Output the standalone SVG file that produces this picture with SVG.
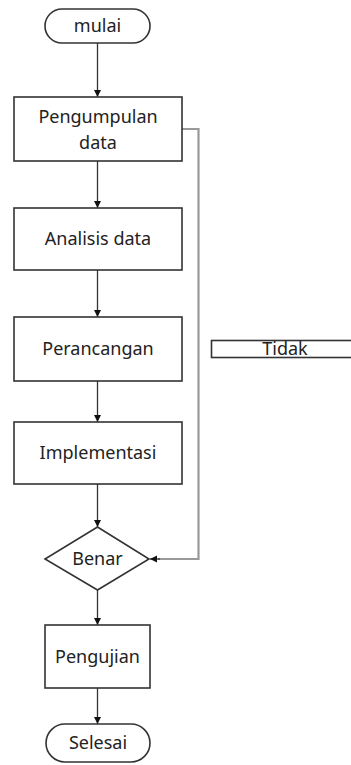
<svg xmlns="http://www.w3.org/2000/svg" width="351" height="765" viewBox="0 0 351 765">
<defs>
<marker id="arr" markerWidth="8" markerHeight="8" refX="7" refY="4" orient="auto" markerUnits="userSpaceOnUse">
<path d="M0,0.5 L7,4 L0,7.5 Z" fill="#111"/>
</marker>
<style>
.box{fill:#fff;stroke:#333;stroke-width:1.6}
.t{font-family:"Noto Sans","Open Sans",sans-serif;font-size:18px;fill:#222;text-anchor:middle}
.c{fill:none;stroke:#333;stroke-width:1.3}
.loop{fill:none;stroke:#999;stroke-width:2.2}
</style>
</defs>
<rect width="351" height="765" fill="#fff"/>
<g id="connectors">
<line class="c" x1="97.5" y1="43" x2="97.5" y2="97" marker-end="url(#arr)"/>
<line class="c" x1="97.5" y1="161" x2="97.5" y2="208" marker-end="url(#arr)"/>
<line class="c" x1="97.5" y1="270" x2="97.5" y2="317" marker-end="url(#arr)"/>
<line class="c" x1="97.5" y1="381" x2="97.5" y2="422" marker-end="url(#arr)"/>
<line class="c" x1="97.5" y1="484" x2="97.5" y2="527" marker-end="url(#arr)"/>
<line class="c" x1="97.5" y1="590" x2="97.5" y2="625" marker-end="url(#arr)"/>
<line class="c" x1="97.5" y1="688" x2="97.5" y2="724" marker-end="url(#arr)"/>
<polyline class="loop" points="182,129 198.5,129 198.5,559 158,559"/>
<line class="c" x1="160" y1="559" x2="150" y2="559" marker-end="url(#arr)"/>
</g>
<g id="mulai">
<rect class="box" x="45" y="9" width="105" height="34" rx="17" ry="17"/>
<text class="t" x="97.5" y="32">mulai</text>
</g>
<g id="pengumpulan">
<rect class="box" x="14" y="97" width="168" height="64"/>
<text class="t" x="98" y="123">Pengumpulan</text>
<text class="t" x="98" y="149">data</text>
</g>
<g id="analisis">
<rect class="box" x="14" y="208" width="168" height="62"/>
<text class="t" x="98" y="245">Analisis data</text>
</g>
<g id="perancangan">
<rect class="box" x="14" y="317" width="168" height="64"/>
<text class="t" x="98" y="355">Perancangan</text>
</g>
<g id="implementasi">
<rect class="box" x="14" y="422" width="168" height="62"/>
<text class="t" x="98" y="459">Implementasi</text>
</g>
<g id="benar">
<polygon class="box" points="97.5,527 149,559 97.5,590 45,559"/>
<text class="t" x="97.5" y="565">Benar</text>
</g>
<g id="tidak">
<rect class="box" x="211.5" y="340.5" width="150" height="17"/>
<text class="t" x="285" y="355">Tidak</text>
</g>
<g id="pengujian">
<rect class="box" x="45" y="625" width="105" height="63"/>
<text class="t" x="97.5" y="663">Pengujian</text>
</g>
<g id="selesai">
<rect class="box" x="46" y="724" width="104" height="38" rx="19" ry="19"/>
<text class="t" x="98" y="749">Selesai</text>
</g>
</svg>
